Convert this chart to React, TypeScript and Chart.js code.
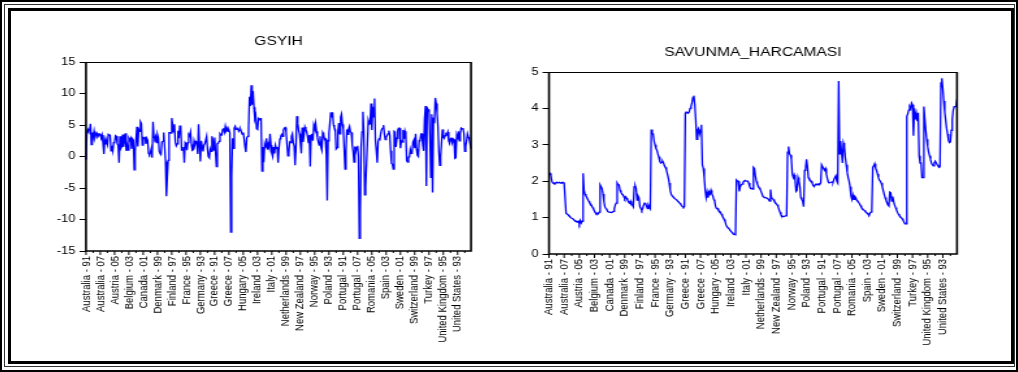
import React, { useEffect, useRef } from 'react';
import { Chart, registerables } from 'chart.js';

Chart.register(...registerables);

const countries = [
  'Australia', 'Austria', 'Belgium', 'Canada', 'Denmark', 'Finland', 'France', 'Germany',
  'Greece', 'Hungary', 'Ireland', 'Italy', 'Netherlands', 'New Zealand', 'Norway', 'Poland',
  'Portugal', 'Romania', 'Spain', 'Sweden', 'Switzerland', 'Turkey', 'United Kingdom', 'United States',
];
const years = ['91', '92', '93', '94', '95', '96', '97', '98', '99', '00', '01', '02', '03', '04', '05', '06', '07', '08'];
const categories = countries.flatMap((c) => years.map((y) => `${c} - ${y}`));

const labelEvery = 16;
const minorEvery = 8;

// GSYIH (GDP growth, %), 18 values per country in the order of `countries`
const gsyih = [
  -0.5, 3.9, 4.3, 4.0, 4.2, 5.2, 1.9, 3.8, 3.1, 4.0, 3.0, 3.5, 3.7, 3.1, 3.3, 3.6, 3.5, 2.9,
  3.4, 2.1, 0.4, 2.6, 2.0, 2.4, 1.9, 3.5, 3.4, 3.4, 0.9, 1.7, 0.9, 2.2, 2.3, 3.3, 3.2, 2.0,
  1.8, -1.0, 3.2, 1.3, 1.6, 3.5, 1.5, 2.5, 3.7, 0.9, 1.8, 1.0, 2.9, 2.6, 2.9, 1.2, 2.8, 2.6,
  -2.1, 0.9, 2.7, 4.7, 1.6, 4.3, 4.0, 5.5, 5.2, 1.8, 3.0, 2.9, 3.0, 2.0, 2.9, 2.6, 0.5, 0.3,
  0.6, 1.2, -0.2, 5.5, 3.1, 2.8, 3.2, 2.2, 3.5, 3.0, 0.8, 0.5, 0.4, 2.3, 2.4, 3.8, 1.6, -0.8,
  -6.3, -3.2, -0.6, 3.8, 3.8, 3.7, 6.1, 5.0, 3.9, 5.1, 2.3, 1.7, 2.0, 4.1, 2.9, 4.8, 4.9, 1.0,
  1.0, 1.5, -1.0, 2.2, 2.0, 1.0, 2.2, 3.5, 3.3, 3.9, 1.9, 1.0, 1.1, 2.5, 1.9, 2.4, 2.3, 0.4,
  5.1, 1.9, -0.8, 2.5, 1.7, 0.8, 1.8, 2.0, 2.0, 3.2, 1.2, 0.0, -0.2, 1.2, 0.8, 3.2, 2.5, 1.0,
  3.0, 0.7, -1.6, 2.0, 2.1, 2.4, 3.6, 3.4, 3.4, 4.3, 4.5, 3.9, 4.8, 4.1, 4.4, 4.0, 4.2, 3.8,
  -12.0, -3.0, 2.9, 1.3, 4.5, 4.8, 4.3, 4.3, 4.6, 4.0, 4.2, 4.3, 3.9, 3.5, 3.8, 2.8, 1.5, 0.7,
  3.0, 3.2, 4.5, 9.5, 8.0, 11.3, 8.2, 10.4, 7.8, 6.0, 6.5, 4.4, 4.3, 6.0, 5.8, 6.0, 6.0, -2.3,
  1.5, -0.9, 2.0, 1.5, 2.9, 1.1, 1.9, 1.4, 3.6, 1.8, 0.5, 0.0, 1.5, 0.5, 1.8, 1.3, 1.5, -1.0,
  1.3, 2.8, 3.2, 3.5, 3.2, 4.2, 4.5, 4.6, 3.9, 1.9, 0.1, 0.5, 2.3, 2.2, 3.2, 3.6, 2.2, 1.7,
  -1.4, 1.2, 6.4, 5.3, 4.2, 3.6, 2.1, 0.5, 4.6, 2.3, 3.5, 4.7, 4.3, 3.9, 3.2, 2.2, 3.4, -1.6,
  3.4, 3.6, 2.5, 5.0, 4.5, 5.3, 4.0, 3.0, 2.3, 1.8, 3.2, 1.5, 1.0, 3.8, 3.5, 2.7, 2.8, 0.3,
  -7.0, 2.5, 3.7, 5.3, 7.0, 6.2, 7.0, 5.0, 4.5, 4.3, 1.2, 1.4, 3.9, 5.3, 3.6, 6.2, 6.7, 5.1,
  4.4, 1.1, -2.0, 1.0, 4.3, 3.5, 4.4, 4.8, 3.9, 3.8, 1.9, 0.8, -0.9, 1.6, 0.8, 1.4, 1.7, 0.0,
  -13.0, -8.8, 1.5, 3.9, 7.1, 3.9, -6.1, -4.8, -1.2, 2.1, 5.7, 5.1, 5.2, 8.4, 4.2, 7.9, 6.3, 9.2,
  2.5, 0.9, -1.0, 2.4, 2.8, 2.7, 3.7, 4.3, 4.5, 5.0, 3.6, 2.7, 3.1, 3.3, 3.6, 4.1, 3.5, 0.9,
  -1.1, -1.2, -2.0, 4.0, 3.9, 1.5, 2.9, 4.2, 4.5, 4.5, 1.3, 2.5, 2.3, 4.2, 2.8, 4.0, 3.4, -0.6,
  -0.9, -0.1, -0.1, 1.1, 0.5, 0.6, 2.3, 2.6, 1.3, 3.6, 1.2, 0.2, 0.0, 2.5, 2.6, 3.6, 3.6, 1.8,
  0.9, 6.0, 8.0, -4.7, 7.8, 7.2, 7.5, 3.1, -3.3, 6.7, -5.7, 6.2, 5.3, 9.3, 8.4, 6.9, 4.7, 0.7,
  -1.4, 0.1, 2.2, 4.3, 3.1, 2.9, 3.3, 3.6, 3.5, 3.9, 2.5, 2.1, 2.8, 3.0, 2.2, 2.8, 2.7, -0.3,
  -0.2, 3.3, 2.7, 4.0, 2.5, 3.7, 4.5, 4.4, 4.5, 3.7, 0.8, 1.6, 2.5, 3.6, 3.1, 2.8, 2.0, 1.2,
];

// SAVUNMA_HARCAMASI (defence spending, % of GDP), 18 values per country
const savunma = [
  2.22, 2.22, 2.15, 2.0, 1.95, 1.95, 1.93, 1.95, 1.97, 1.95, 1.95, 1.97, 1.95, 1.95, 1.97, 1.97, 1.95, 1.95,
  1.12, 1.1, 1.08, 1.05, 1.03, 1.0, 0.98, 0.97, 0.95, 0.92, 0.9, 0.9, 0.88, 0.9, 0.83, 0.92, 0.85, 0.9,
  2.22, 1.75, 1.65, 1.6, 1.55, 1.5, 1.45, 1.4, 1.37, 1.33, 1.28, 1.23, 1.18, 1.13, 1.1, 1.12, 1.1, 1.15,
  1.9, 1.85, 1.8, 1.65, 1.45, 1.3, 1.25, 1.22, 1.17, 1.15, 1.15, 1.15, 1.14, 1.15, 1.17, 1.25, 1.35, 1.4,
  1.95, 1.9, 1.9, 1.75, 1.7, 1.65, 1.63, 1.58, 1.52, 1.57, 1.53, 1.48, 1.43, 1.4, 1.45, 1.35, 1.35, 1.3,
  1.85, 1.88, 1.8, 1.48, 1.6, 1.55, 1.3, 1.25, 1.2, 1.25, 1.35, 1.4, 1.38, 1.32, 1.25, 1.35, 1.3, 1.25,
  3.42, 3.3, 3.3, 3.1, 3.0, 2.9, 2.85, 2.75, 2.67, 2.55, 2.5, 2.52, 2.55, 2.5, 2.42, 2.38, 2.31, 2.2,
  2.1, 1.95, 1.75, 1.65, 1.6, 1.57, 1.55, 1.52, 1.5, 1.48, 1.45, 1.43, 1.4, 1.37, 1.33, 1.3, 1.28, 1.3,
  3.87, 3.9, 3.88, 3.87, 3.9, 4.0, 4.05, 4.15, 4.3, 4.35, 4.1, 3.7, 3.15, 3.4, 3.45, 3.3, 3.4, 3.55,
  2.45, 2.35, 2.1, 1.75, 1.55, 1.7, 1.55, 1.7, 1.65, 1.75, 1.65, 1.6, 1.5, 1.45, 1.3, 1.25, 1.25, 1.2,
  1.18, 1.15, 1.1, 1.05, 1.0, 0.95, 0.9, 0.8, 0.75, 0.72, 0.7, 0.66, 0.63, 0.6, 0.57, 0.55, 0.54, 0.53,
  2.03, 2.0, 2.0, 1.72, 1.85, 1.9, 1.92, 1.97, 2.0, 2.02, 2.0, 2.0, 2.0, 1.95, 1.85, 1.8, 1.8, 1.78,
  2.38, 2.35, 2.15, 2.0, 1.93, 1.87, 1.82, 1.78, 1.72, 1.65, 1.58, 1.56, 1.55, 1.55, 1.54, 1.52, 1.5, 1.45,
  1.77, 1.55, 1.52, 1.5, 1.45, 1.42, 1.38, 1.35, 1.3, 1.22, 1.15, 1.08, 1.04, 1.03, 1.03, 1.03, 1.05, 1.05,
  2.8, 2.95, 2.75, 2.72, 2.6, 2.2, 2.1, 2.17, 2.03, 1.72, 1.75, 2.1, 2.0, 1.85, 1.55, 1.5, 1.45, 1.3,
  2.3, 2.35, 2.6, 2.4, 2.1, 2.05, 2.03, 2.0, 1.95, 1.88, 1.85, 1.9, 1.92, 1.92, 1.9, 1.93, 1.92, 1.95,
  2.45, 2.45, 2.35, 2.3, 2.35, 2.2, 2.08, 1.98, 1.95, 1.95, 1.97, 1.98, 1.97, 2.05, 2.1, 2.15, 2.0, 1.95,
  4.75, 2.75, 3.1, 2.8, 2.5, 3.05, 2.95, 2.65, 2.45, 2.25, 2.1, 2.0, 1.85, 1.6, 1.5, 1.62, 1.5, 1.58,
  1.55, 1.48, 1.45, 1.42, 1.38, 1.33, 1.28, 1.25, 1.22, 1.2, 1.17, 1.15, 1.12, 1.1, 1.05, 1.12, 1.15, 1.2,
  2.38, 2.42, 2.48, 2.35, 2.3, 2.2, 2.1, 2.03, 2.0, 1.95, 1.85, 1.75, 1.65, 1.55, 1.48, 1.42, 1.35, 1.32,
  1.7, 1.68, 1.45, 1.58, 1.45, 1.35, 1.28, 1.22, 1.15, 1.1, 1.06, 1.03, 1.0, 0.97, 0.93, 0.88, 0.83, 0.83,
  3.78, 3.85, 3.95, 4.05, 4.0, 4.15, 4.1, 3.25, 4.0, 3.7, 3.85, 3.65, 3.88, 2.7, 2.5, 2.5, 2.1, 2.1,
  4.05, 3.7, 3.4, 3.15, 2.95, 2.8, 2.7, 2.6, 2.5, 2.45, 2.42, 2.5, 2.55, 2.5, 2.45, 2.42, 2.38, 2.4,
  4.7, 4.83, 4.55, 4.2, 3.9, 3.68, 3.45, 3.3, 3.12, 3.06, 3.08, 3.4, 3.7, 3.95, 4.05, 4.05, 4.05, 4.25,
];

const gsyihTicks = [-15, -10, -5, 0, 5, 10, 15];
const savunmaTicks = [0, 1, 2, 3, 4, 5];

const FONT = '"Liberation Sans", Arial, Helvetica, sans-serif';
const STRETCH = 1.3;

type Spec = {
  title: string;
  values: number[];
  yTicks: number[];
  canvasW: number;
  canvasH: number;
  yWidth: number;
  padRight: number;
  padTop: number;
  xHeight: number;
  titleGap: number;
};

function MiniChart({ spec }: { spec: Spec }) {
  const ref = useRef<HTMLCanvasElement | null>(null);
  useEffect(() => {
    if (!ref.current) return;
    const titlePlugin = {
      id: 'ownTitle',
      afterDraw(chart: any) {
        const { ctx, chartArea } = chart;
        ctx.save();
        ctx.font = `12px ${FONT}`;
        ctx.fillStyle = '#000';
        ctx.textAlign = 'center';
        ctx.textBaseline = 'middle';
        ctx.fillText(spec.title, (chartArea.left + chartArea.right) / 2, chartArea.top - spec.titleGap);
        ctx.restore();
      },
    };
    const framePlugin = {
      id: 'frameTicks',
      afterDraw(chart: any) {
        const { ctx, chartArea } = chart;
        const { left, right, top, bottom } = chartArea;
        ctx.save();
        ctx.strokeStyle = '#000';
        ctx.lineWidth = 1;
        ctx.beginPath();
        ctx.moveTo(left, top + 0.5);
        ctx.lineTo(right, top + 0.5);
        ctx.stroke();
        ctx.lineWidth = 1.6;
        ctx.beginPath();
        ctx.moveTo(left, top);
        ctx.lineTo(left, bottom);
        ctx.lineTo(right, bottom);
        ctx.lineTo(right, top);
        ctx.stroke();
        const xs = chart.scales.x;
        ctx.lineWidth = 1;
        for (let i = 0; i < categories.length; i += minorEvery) {
          const px = xs.getPixelForValue(i);
          const len = i % labelEvery === 0 ? 4 : 2;
          ctx.beginPath();
          ctx.moveTo(px, bottom);
          ctx.lineTo(px, bottom + len);
          ctx.stroke();
        }
        ctx.restore();
      },
    };
    const chart = new Chart(ref.current, {
      type: 'line',
      data: {
        labels: categories,
        datasets: [
          {
            data: spec.values,
            borderColor: '#0000ff',
            borderWidth: 1.3,
            pointRadius: 0,
            fill: false,
            tension: 0,
          },
        ],
      },
      options: {
        animation: false,
        responsive: false,
        maintainAspectRatio: false,
        devicePixelRatio: 1,
        events: [],
        layout: { padding: { top: spec.padTop, right: spec.padRight, left: 0, bottom: 0 } },
        plugins: {
          legend: { display: false },
          tooltip: { enabled: false },
          title: { display: false },
        },
        scales: {
          x: {
            type: 'category',
            offset: false,
            grid: { display: false, drawTicks: false },
            border: { display: false },
            afterFit: (s: any) => {
              s.height = spec.xHeight;
            },
            ticks: {
              autoSkip: false,
              minRotation: 90,
              maxRotation: 90,
              padding: 5,
              color: '#000',
              font: { family: FONT, size: 9.5 },
              callback: (_v: any, i: number) => (i % labelEvery === 0 ? categories[i] : ''),
            },
          },
          y: {
            min: spec.yTicks[0],
            max: spec.yTicks[spec.yTicks.length - 1],
            afterBuildTicks: (s: any) => {
              s.ticks = spec.yTicks.map((v) => ({ value: v }));
            },
            afterFit: (s: any) => {
              s.width = spec.yWidth;
            },
            grid: { display: true, drawOnChartArea: false, drawTicks: true, tickLength: 5, color: '#000', lineWidth: 1 },
            border: { display: false },
            ticks: { color: '#000', padding: 3, font: { family: FONT, size: 10 } },
          },
        },
      },
      plugins: [titlePlugin, framePlugin],
    } as any);
    return () => chart.destroy();
  }, [spec]);
  return <canvas ref={ref} width={spec.canvasW} height={spec.canvasH} style={{ display: 'block' }} />;
}

const leftSpec: Spec = {
  title: 'GSYIH',
  values: gsyih,
  yTicks: gsyihTicks,
  canvasW: 379,
  canvasH: 340,
  yWidth: (86 - 12) / STRETCH,
  padRight: 379 - (471 - 12) / STRETCH,
  padTop: 50,
  xHeight: 101,
  titleGap: 20,
};

const rightSpec: Spec = {
  title: 'SAVUNMA_HARCAMASI',
  values: savunma,
  yTicks: savunmaTicks,
  canvasW: 385,
  canvasH: 340,
  yWidth: (549 - 508) / STRETCH,
  padRight: 385 - (957 - 508) / STRETCH,
  padTop: 60,
  xHeight: 98,
  titleGap: 19,
};

export default function App() {
  const box = (s: React.CSSProperties): React.CSSProperties => ({
    position: 'absolute',
    boxSizing: 'border-box',
    ...s,
  });
  return (
    <div style={{ position: 'fixed', left: 0, top: 0, width: 1018, height: 372, background: '#fff', overflow: 'hidden' }}>
      <div style={box({ left: 0, top: 0, width: 1018, height: 372, border: '2px solid #000' })} />
      <div style={box({ left: 4, top: 4, width: 1011, height: 363, border: '1px solid #333' })} />
      <div style={box({ left: 8, top: 8, width: 1006, height: 356, border: '3px solid #000' })} />
      <div style={{ position: 'absolute', left: 12, top: 12, transform: `scaleX(${STRETCH})`, transformOrigin: '0 0' }}>
        <MiniChart spec={leftSpec} />
      </div>
      <div style={{ position: 'absolute', left: 508, top: 12, transform: `scaleX(${STRETCH})`, transformOrigin: '0 0' }}>
        <MiniChart spec={rightSpec} />
      </div>
    </div>
  );
}
